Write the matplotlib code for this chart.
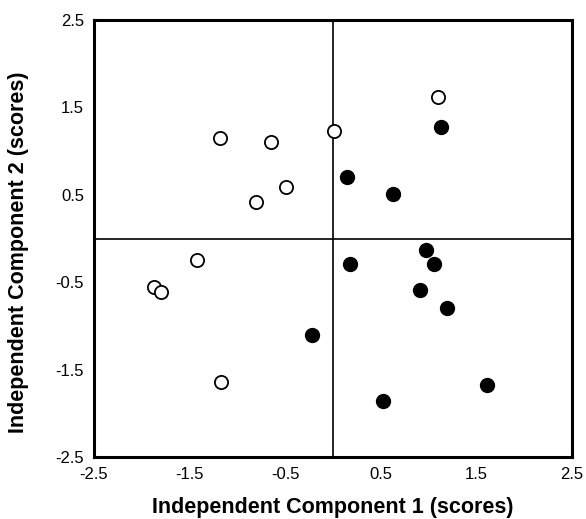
import numpy as np
import matplotlib.pyplot as plt

plt.rcParams['font.family'] = ['Liberation Sans', 'DejaVu Sans']

# group 1 (open circles)
open_x = [1.10, -1.18, -0.645, 0.016, -0.495, -0.80, -1.417, -1.868, -1.80, -1.166]
open_y = [1.62, 1.155, 1.105, 1.227, 0.593, 0.416, -0.24, -0.547, -0.61, -1.636]
# group 2 (filled circles)
fill_x = [1.13, 0.149, 0.63, 0.977, 0.18, 1.06, 0.914, 1.19, -0.215, 1.61, 0.526]
fill_y = [1.277, 0.70, 0.51, -0.13, -0.294, -0.29, -0.585, -0.79, -1.097, -1.675, -1.86]

ticks = [-2.5, -1.5, -0.5, 0.5, 1.5, 2.5]

fig = plt.figure(figsize=(5.86, 5.19), dpi=100)
ax = fig.add_axes([0.160, 0.1185, 0.816, 0.843])

ax.axhline(0, color='black', lw=1.2, zorder=1)
ax.axvline(0, color='black', lw=1.2, zorder=1)

ax.plot(open_x, open_y, 'o', ms=9.5, mfc='white', mec='black', mew=1.3, ls='none', zorder=3)
ax.plot(fill_x, fill_y, 'o', ms=10, mfc='black', mec='black', ls='none', zorder=3)

ax.set_xlim(-2.5, 2.5)
ax.set_ylim(-2.5, 2.5)
ax.set_xticks(ticks)
ax.set_yticks(ticks)
ax.set_xticklabels([str(t) for t in ticks])
ax.set_yticklabels([str(t) for t in ticks])
ax.tick_params(length=0, labelsize=12, pad=7)
for s in ax.spines.values():
    s.set_linewidth(2.2)

ax.set_xlabel("Independent Component 1 (scores)", fontsize=15.5, fontweight='bold', labelpad=11)
ax.set_ylabel("Independent Component 2 (scores)", fontsize=15.5, fontweight='bold')
ax.yaxis.set_label_coords(-0.135, 0.47)

plt.savefig("out.png", dpi=100)
